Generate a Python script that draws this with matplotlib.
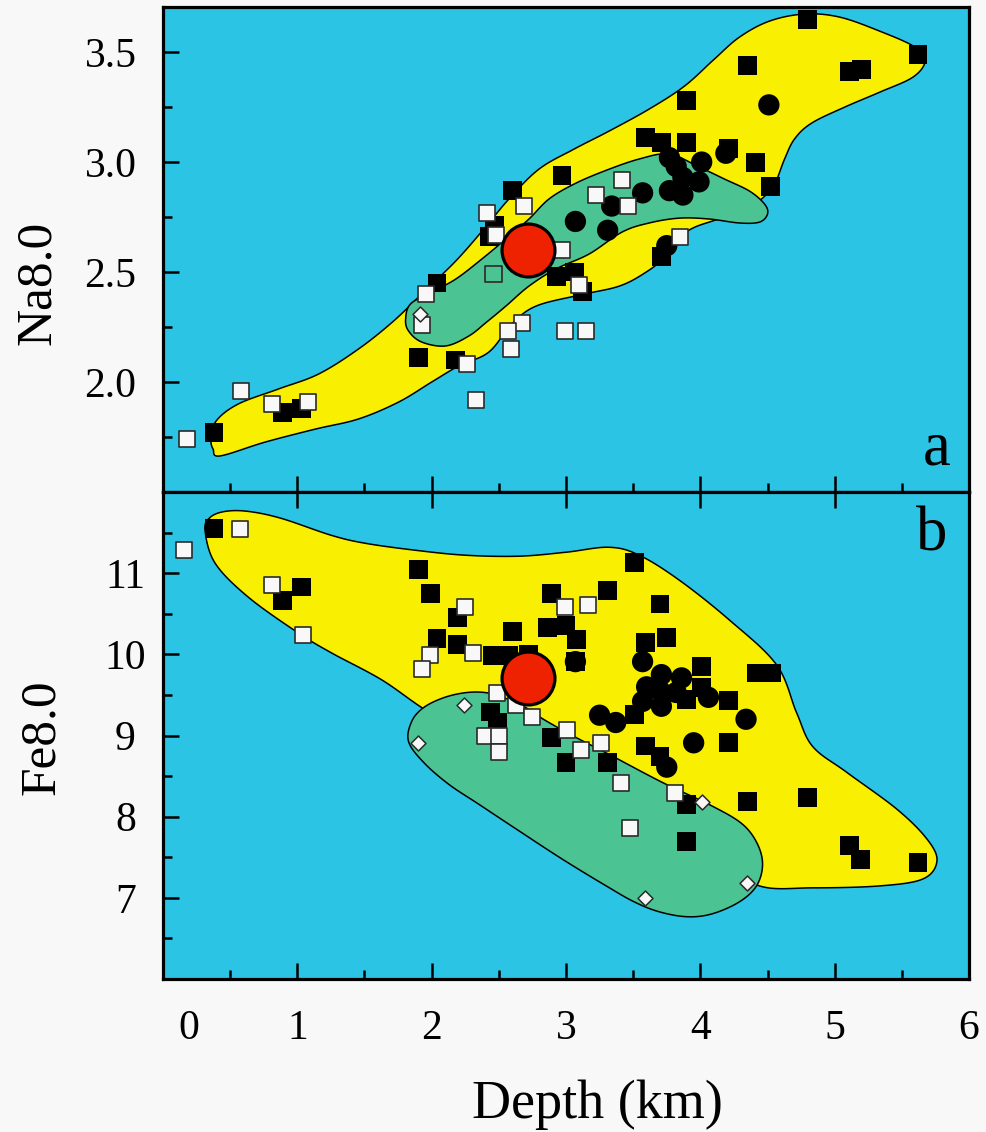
import numpy as np
import matplotlib
matplotlib.use("Agg")
import matplotlib.pyplot as plt
from matplotlib.ticker import FixedLocator, FormatStrFormatter
from matplotlib.transforms import ScaledTranslation

plt.rcParams["font.family"] = ["Liberation Serif", "DejaVu Serif"]

# ---------------- Panel a: Na8.0 against depth ----------------
na_sq_depth = [0.38, 0.89, 1.03, 1.90, 2.04, 2.18, 2.43, 2.47, 2.60, 2.97, 2.93, 3.06,
               3.12, 3.59, 3.71, 3.90, 3.90, 4.21, 4.35, 4.41, 4.52, 4.80, 5.11, 5.20,
               5.62, 3.71]
na_sq_value = [1.77, 1.86, 1.88, 2.11, 2.45, 2.10, 2.66, 2.71, 2.87, 2.94, 2.48, 2.50,
               2.41, 3.11, 3.09, 3.28, 3.09, 3.06, 3.44, 3.00, 2.89, 3.65, 3.41, 3.42,
               3.49, 2.57]

na_open_depth = [0.18, 0.58, 0.81, 1.08, 1.96, 1.93, 2.26, 2.33, 2.41, 2.69, 2.48,
                 2.97, 3.22, 3.42, 3.46, 3.85, 3.10, 2.67, 2.57, 2.59, 2.99, 3.15]
na_open_value = [1.74, 1.96, 1.90, 1.91, 2.40, 2.26, 2.08, 1.92, 2.77, 2.80, 2.67,
                 2.60, 2.85, 2.92, 2.80, 2.66, 2.44, 2.27, 2.23, 2.15, 2.23, 2.23]

na_hollow_depth = [2.46]
na_hollow_value = [2.49]

na_diamond_depth = [1.91]
na_diamond_value = [2.31]

na_dot_depth = [4.51, 3.07, 3.31, 3.34, 3.57, 3.77, 3.87, 3.77, 3.82, 4.01, 3.99,
                4.19, 3.75, 3.87]
na_dot_value = [3.26, 2.73, 2.69, 2.80, 2.86, 2.87, 2.85, 3.02, 2.98, 3.00, 2.91,
                3.04, 2.62, 2.93]

na_mean_depth = [2.72]
na_mean_value = [2.60]

# envelope outlines (depth, Na8.0)
na_outer_depth = [0.358, 0.396, 0.560, 0.858, 1.157, 1.455, 1.716, 1.940, 2.179, 2.388,
                  2.575, 2.799, 3.060, 3.321, 3.619, 3.881, 4.104, 4.291, 4.515, 4.776,
                  5.037, 5.336, 5.597, 5.672, 5.582, 5.336, 5.075, 4.828, 4.701, 4.627,
                  4.552, 4.455, 4.291, 4.090, 3.896, 3.746, 3.597, 3.396, 3.097, 2.776,
                  2.597, 2.425, 2.201, 2.000, 1.754, 1.455, 1.134, 0.761, 0.425, 0.373]
na_outer_value = [1.741, 1.823, 1.900, 1.968, 2.036, 2.150, 2.277, 2.409, 2.550, 2.695,
                  2.832, 2.968, 3.059, 3.141, 3.241, 3.345, 3.468, 3.568, 3.641, 3.673,
                  3.659, 3.595, 3.523, 3.459, 3.386, 3.318, 3.250, 3.177, 3.105, 3.014,
                  2.900, 2.832, 2.764, 2.732, 2.682, 2.573, 2.500, 2.436, 2.395, 2.345,
                  2.264, 2.136, 2.073, 2.000, 1.909, 1.832, 1.786, 1.727, 1.664, 1.695]

na_inner_depth = [1.806, 1.843, 2.000, 2.179, 2.373, 2.552, 2.724, 2.873, 3.060, 3.284,
                  3.545, 3.769, 3.993, 4.179, 4.366, 4.478, 4.500, 4.440, 4.291, 4.067,
                  3.843, 3.619, 3.418, 3.172, 2.925, 2.724, 2.552, 2.410, 2.276, 2.104,
                  1.925, 1.828]
na_inner_value = [2.286, 2.355, 2.409, 2.468, 2.559, 2.650, 2.741, 2.832, 2.900, 2.959,
                  3.014, 3.036, 2.977, 2.923, 2.868, 2.809, 2.764, 2.727, 2.723, 2.741,
                  2.745, 2.723, 2.682, 2.582, 2.514, 2.436, 2.345, 2.273, 2.209, 2.164,
                  2.182, 2.232]

# ---------------- Panel b: Fe8.0 against depth ----------------
fe_sq_depth = [0.38, 1.03, 0.89, 1.90, 1.99, 2.19, 2.04, 2.19, 2.45, 2.60, 2.57, 2.72,
               2.86, 3.00, 3.08, 2.89, 3.31, 3.51, 3.70, 3.59, 3.75, 4.01, 4.01, 4.42,
               4.53, 4.21, 3.90, 3.51, 2.89, 3.00, 3.31, 3.59, 3.70, 4.21, 3.90, 3.90,
               4.35, 4.80, 5.11, 5.19, 5.62, 2.44, 2.49, 3.07]
fe_sq_value = [11.55, 10.83, 10.66, 11.05, 10.75, 10.45, 10.19, 10.12, 9.99, 10.28, 9.99,
               10.00, 10.33, 10.36, 10.18, 10.75, 10.79, 11.13, 10.62, 10.15, 10.21, 9.85,
               9.59, 9.77, 9.77, 9.43, 9.44, 9.26, 8.98, 8.67, 8.67, 8.87, 8.74, 8.91,
               8.15, 7.69, 8.19, 8.24, 7.64, 7.47, 7.43, 9.29, 9.16, 9.91]

fe_open_depth = [0.16, 0.57, 0.81, 1.04, 2.25, 1.99, 1.93, 2.31, 2.49, 2.63, 2.75,
                 2.40, 2.50, 2.50, 2.99, 3.16, 3.01, 3.11, 3.26, 3.41, 3.81, 3.48]
fe_open_value = [11.29, 11.55, 10.85, 10.24, 10.58, 9.99, 9.82, 10.02, 9.52, 9.37, 9.23,
                 8.99, 8.99, 8.80, 10.58, 10.61, 9.07, 8.82, 8.91, 8.42, 8.29, 7.86]

fe_diamond_depth = [2.24, 1.90, 4.01, 4.35, 3.59]
fe_diamond_value = [9.38, 8.91, 8.18, 7.18, 7.00]

fe_dot_depth = [3.07, 3.57, 3.71, 3.86, 3.60, 3.57, 3.71, 3.82, 4.06, 3.25, 3.37,
                4.34, 3.95, 3.75, 3.70]
fe_dot_value = [9.91, 9.91, 9.75, 9.71, 9.60, 9.42, 9.36, 9.53, 9.47, 9.25, 9.16,
                9.20, 8.91, 8.61, 9.55]

fe_mean_depth = [2.72]
fe_mean_value = [9.71]

fe_outer_depth = [0.313, 0.351, 0.463, 0.634, 0.881, 1.254, 1.507, 1.881, 2.254, 2.649,
                  3.000, 3.321, 3.545, 3.843, 4.216, 4.567, 4.716, 4.836, 5.090, 5.463,
                  5.687, 5.761, 5.657, 5.336, 4.836, 4.440, 4.142, 3.619, 2.873, 2.201,
                  1.978, 1.627, 1.254, 1.007, 0.634, 0.388]
fe_outer_value = [11.528, 11.687, 11.761, 11.761, 11.675, 11.466, 11.368, 11.282, 11.221,
                  11.209, 11.258, 11.319, 11.221, 10.914, 10.423, 9.871, 9.282, 8.865,
                  8.546, 8.092, 7.724, 7.454, 7.233, 7.147, 7.123, 7.147, 7.479, 7.969,
                  8.706, 9.196, 9.294, 9.687, 10.018, 10.264, 10.706, 11.123]

fe_inner_depth = [1.828, 1.851, 1.940, 2.090, 2.254, 2.403, 2.537, 2.687, 2.836, 3.060,
                  3.321, 3.716, 4.090, 4.313, 4.425, 4.463, 4.418, 4.291, 4.090, 3.903,
                  3.694, 3.507, 3.299, 2.970, 2.597, 2.351, 2.127, 1.940]
fe_inner_value = [8.926, 9.172, 9.344, 9.466, 9.528, 9.528, 9.466, 9.356, 9.196, 8.988,
                  8.767, 8.423, 8.129, 7.908, 7.663, 7.405, 7.147, 6.951, 6.804, 6.767,
                  6.828, 6.951, 7.147, 7.479, 7.883, 8.153, 8.399, 8.669]

depth_labels = ["0", "1", "2", "3", "4", "5", "6"]

# ---------------- styling ----------------
BG = "#2CC4E4"
PAPER = "#F8F8F8"
YELLOW = "#F8F000"
GREEN = "#4BC393"
RED = "#EE2200"


def closed_spline(xs, ys, n=24):
    """Closed Catmull-Rom curve through the outline vertices."""
    pts = np.column_stack([xs, ys]).astype(float)
    m = len(pts)
    t = np.linspace(0.0, 1.0, n, endpoint=False)[:, None]
    segs = []
    for i in range(m):
        p0, p1, p2, p3 = pts[i - 1], pts[i], pts[(i + 1) % m], pts[(i + 2) % m]
        segs.append(0.5 * (2 * p1 + (-p0 + p2) * t
                           + (2 * p0 - 5 * p1 + 4 * p2 - p3) * t ** 2
                           + (-p0 + 3 * p1 - 3 * p2 + p3) * t ** 3))
    curve = np.vstack(segs)
    return curve[:, 0], curve[:, 1]


def draw_panel(ax, outer, inner, sq, opn, dots, mean, diamonds=None, hollow=None):
    ax.set_facecolor(BG)
    ox, oy = closed_spline(*outer)
    ax.fill(ox, oy, facecolor=YELLOW, edgecolor="black", lw=1.1, zorder=1)
    ix, iy = closed_spline(*inner)
    ax.fill(ix, iy, facecolor=GREEN, edgecolor="black", lw=1.1, zorder=2)
    ax.scatter(*sq, marker="s", s=185, facecolor="black", edgecolor="none", zorder=3)
    ax.scatter(*dots, marker="o", s=235, facecolor="black", edgecolor="none", zorder=4)
    ax.scatter(*opn, marker="s", s=135, facecolor=PAPER, edgecolor="#2a2a2a",
               linewidth=1.2, zorder=5)
    if hollow is not None:
        ax.scatter(*hollow, marker="s", s=135, facecolor="none", edgecolor="#2a2a2a",
                   linewidth=1.2, zorder=5)
    if diamonds is not None:
        ax.scatter(*diamonds, marker="D", s=58, facecolor=PAPER, edgecolor="#2a2a2a",
                   linewidth=1.1, zorder=5)
    ax.scatter(*mean, marker="o", s=1450, facecolor=RED, edgecolor="black",
               linewidth=2.3, zorder=6)
    for sp in ax.spines.values():
        sp.set_linewidth(2.3)
    ax.set_xlim(0.0, 6.0)
    ax.xaxis.set_major_locator(FixedLocator([0, 1, 2, 3, 4, 5, 6]))
    ax.xaxis.set_minor_locator(FixedLocator([0.5, 1.5, 2.5, 3.5, 4.5, 5.5]))
    ax.tick_params(which="both", direction="in", right=False, width=1.8,
                   labelsize=30, colors="black")
    ax.tick_params(which="major", length=11.5)
    ax.tick_params(which="minor", length=6.5)


fig = plt.figure(figsize=(9.86, 11.32), dpi=100, facecolor=PAPER)
ax_a = fig.add_axes([0.1653, 0.56537, 0.8175, 0.42845])
ax_b = fig.add_axes([0.1653, 0.13516, 0.8175, 0.43021])

draw_panel(ax_a, (na_outer_depth, na_outer_value), (na_inner_depth, na_inner_value),
           (na_sq_depth, na_sq_value), (na_open_depth, na_open_value),
           (na_dot_depth, na_dot_value), (na_mean_depth, na_mean_value),
           diamonds=(na_diamond_depth, na_diamond_value),
           hollow=(na_hollow_depth, na_hollow_value))
draw_panel(ax_b, (fe_outer_depth, fe_outer_value), (fe_inner_depth, fe_inner_value),
           (fe_sq_depth, fe_sq_value), (fe_open_depth, fe_open_value),
           (fe_dot_depth, fe_dot_value), (fe_mean_depth, fe_mean_value),
           diamonds=(fe_diamond_depth, fe_diamond_value))

# panel a axes
ax_a.set_ylim(1.5, 3.705)
ax_a.yaxis.set_major_locator(FixedLocator([2.0, 2.5, 3.0, 3.5]))
ax_a.yaxis.set_minor_locator(FixedLocator([1.75, 2.25, 2.75, 3.25]))
ax_a.yaxis.set_major_formatter(FormatStrFormatter("%.1f"))
ax_a.tick_params(top=False, labelbottom=False)
ax_a.tick_params(axis="y", pad=19)
ax_a.text(0.960, 0.056, "a", transform=ax_a.transAxes, fontsize=45,
          ha="center", va="baseline")

# panel b axes
ax_b.set_ylim(6.0, 12.0)
ax_b.yaxis.set_major_locator(FixedLocator([7, 8, 9, 10, 11]))
ax_b.yaxis.set_minor_locator(FixedLocator([6.5, 7.5, 8.5, 9.5, 10.5, 11.5]))
ax_b.tick_params(top=True)
ax_b.tick_params(axis="y", pad=27)
ax_b.tick_params(axis="x", pad=22)
ax_b.set_xticklabels(depth_labels)
for lbl in ax_b.get_yticklabels():
    lbl.set_horizontalalignment("center")
zero_lbl = ax_b.get_xticklabels()[0]
zero_lbl.set_transform(zero_lbl.get_transform()
                       + ScaledTranslation(0.26, 0, fig.dpi_scale_trans))
ax_b.text(0.953, 0.879, "b", transform=ax_b.transAxes, fontsize=45,
          ha="center", va="baseline")

fig.text(38 / 986, 1 - 283 / 1132, "Na8.0", rotation=90, ha="center", va="center",
         fontsize=37)
fig.text(42 / 986, 1 - 737 / 1132, "Fe8.0", rotation=90, ha="center", va="center",
         fontsize=37)
fig.text(597 / 986, 1 - 1105 / 1132, "Depth (km)", ha="center", va="center",
         fontsize=39)

fig.savefig("out.png", dpi=100, facecolor=PAPER)
